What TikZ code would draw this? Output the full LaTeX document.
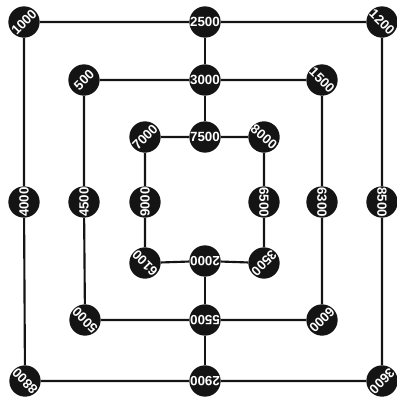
\documentclass[tikz,border=0pt]{standalone}
\usepackage{fontspec}
\setsansfont{Liberation Sans}
\usetikzlibrary{positioning}
\definecolor{ink}{HTML}{141414}
\tikzset{
  stone/.style = {circle, fill=ink, draw=none, minimum size=23.5pt, inner sep=0pt,
                  text=white, font=\sffamily\bfseries\fontsize{10}{10}\selectfont},
  link/.style  = {line width=1.6pt, draw=ink},
}

\begin{document}
\begin{tikzpicture}[x=0.75pt, y=-0.75pt]
  \useasboundingbox (0,0) rectangle (397,401);

  % outer square
  \node[stone, rotate=45]   (otl) at (24,22)   {1000};
  \node[stone]              (otm) at (205,22)  {2500};
  \node[stone, rotate=-45]  (otr) at (382,22)  {1200};
  \node[stone, rotate=90]   (oml) at (24,202)  {4000};
  \node[stone, rotate=-90]  (omr) at (382,202) {8500};
  \node[stone, rotate=135]  (obl) at (25,381)  {8800};
  \node[stone, rotate=180]  (obm) at (205,381) {2900};
  \node[stone, rotate=-135] (obr) at (382,381) {3600};

  % middle square
  \node[stone, rotate=45]   (mtl) at (84,80)   {500};
  \node[stone]              (mtm) at (205,80)  {3000};
  \node[stone, rotate=-45]  (mtr) at (322,80)  {1500};
  \node[stone, rotate=90]   (mml) at (84,202)  {4500};
  \node[stone, rotate=-90]  (mmr) at (322,202) {6300};
  \node[stone, rotate=135]  (mbl) at (85,320)  {5000};
  \node[stone, rotate=180]  (mbm) at (205,320) {5500};
  \node[stone, rotate=-135] (mbr) at (322,320) {6000};

  % inner square
  \node[stone, rotate=45]   (itl) at (145,137) {7000};
  \node[stone]              (itm) at (205,137) {7500};
  \node[stone, rotate=-40]  (itr) at (264,137) {8000};
  \node[stone, rotate=90]   (iml) at (145,202) {9000};
  \node[stone, rotate=-90]  (imr) at (264,202) {6500};
  \node[stone, rotate=135]  (ibl) at (145,263) {6100};
  \node[stone, rotate=180]  (ibm) at (205,261) {2000};
  \node[stone, rotate=-135] (ibr) at (264,263) {3500};

  % square sides
  \draw[link] (otl) -- (otm) -- (otr) -- (omr) -- (obr) -- (obm) -- (obl) -- (oml) -- (otl);
  \draw[link] (mtl) -- (mtm) -- (mtr) -- (mmr) -- (mbr) -- (mbm) -- (mbl) -- (mml) -- (mtl);
  \draw[link] (itl) -- (itm) -- (itr) -- (imr) -- (ibr) -- (ibm) -- (ibl) -- (iml) -- (itl);

  % spokes top and bottom
  \draw[link] (otm) -- (mtm) -- (itm);
  \draw[link] (ibm) -- (mbm) -- (obm);
\end{tikzpicture}
\end{document}
